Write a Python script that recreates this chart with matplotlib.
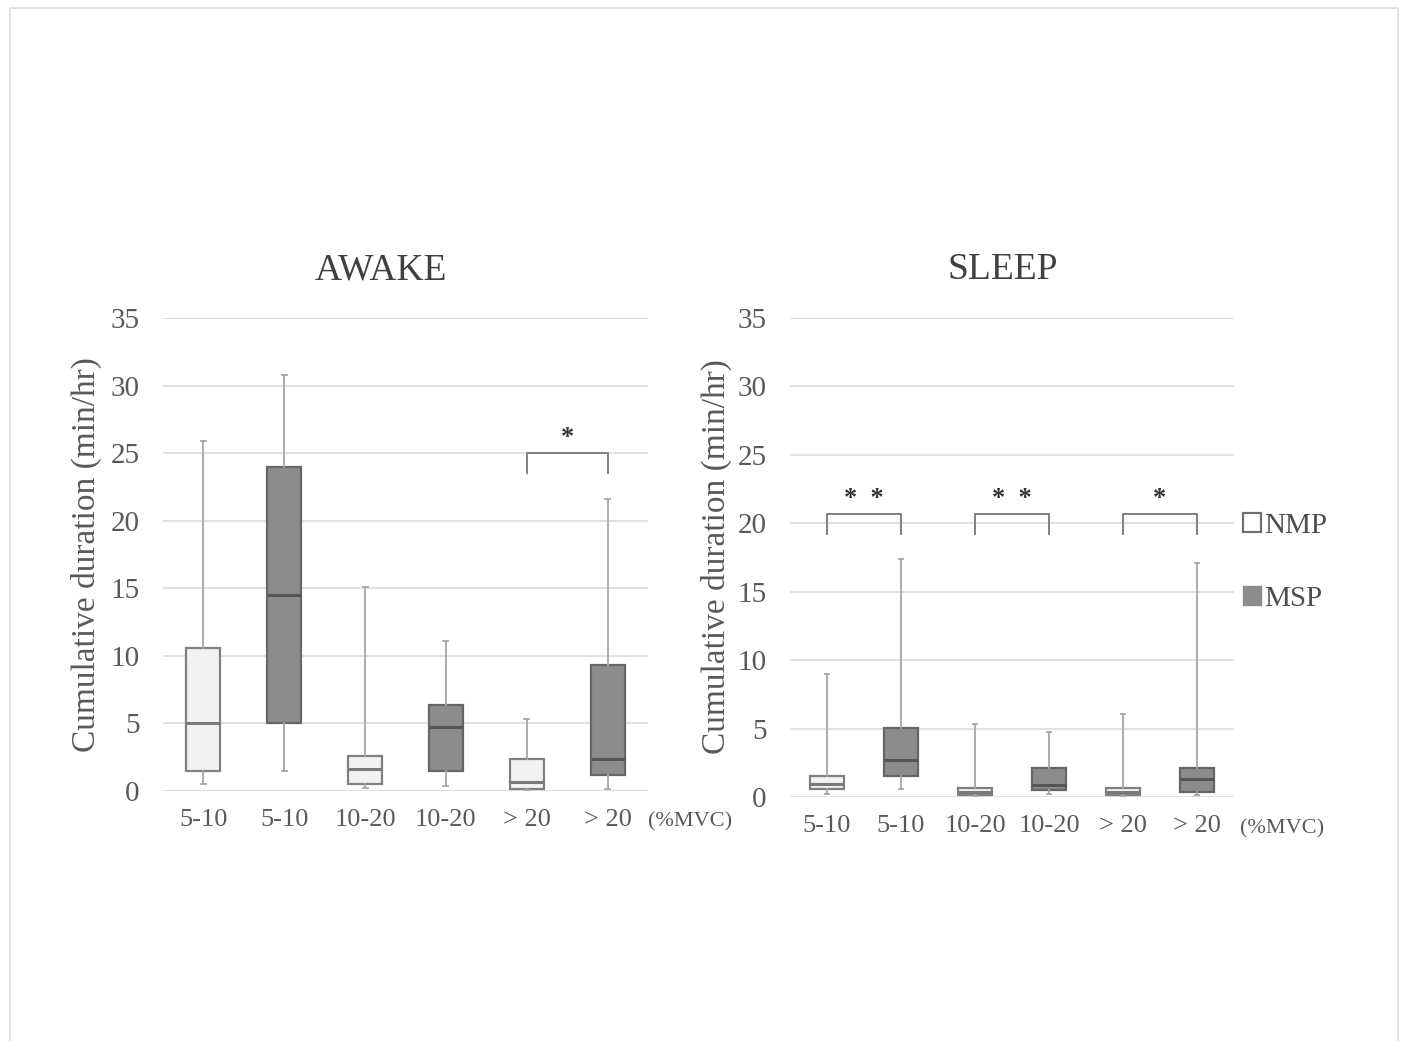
import matplotlib
matplotlib.use("Agg")
import matplotlib.pyplot as plt
from matplotlib.patches import Patch
from matplotlib.lines import Line2D

plt.rcParams['font.family'] = ['Liberation Serif', 'DejaVu Serif']

# categories (%MVC bands), NMP / MSP alternate
categories = ['5-10', '5-10', '10-20', '10-20', '> 20', '> 20']
groups = ['NMP', 'MSP', 'NMP', 'MSP', 'NMP', 'MSP']

# AWAKE box statistics (min/hr)
awake_whislo = [0.5, 1.45, 0.2, 0.4, 0.05, 0.15]
awake_q1 = [1.45, 5.05, 0.5, 1.45, 0.15, 1.2]
awake_med = [5.05, 14.5, 1.6, 4.7, 0.65, 2.35]
awake_q3 = [10.6, 24.0, 2.6, 6.4, 2.4, 9.35]
awake_whishi = [25.9, 30.8, 15.1, 11.1, 5.3, 21.6]

# SLEEP box statistics (min/hr)
sleep_whislo = [0.2, 0.6, 0.05, 0.2, 0.05, 0.15]
sleep_q1 = [0.6, 1.5, 0.15, 0.5, 0.15, 0.4]
sleep_med = [0.95, 2.7, 0.4, 0.9, 0.35, 1.3]
sleep_q3 = [1.5, 5.05, 0.65, 2.15, 0.65, 2.1]
sleep_whishi = [9.0, 17.4, 5.3, 4.75, 6.05, 17.1]

# significance marks: (left index, right index, bracket top, label)
awake_sig = [(4, 5, 25.0, '*')]
sleep_sig = [(0, 1, 20.7, '*  *'), (2, 3, 20.7, '*  *'), (4, 5, 20.7, '*')]

fill = {'NMP': '#f2f2f2', 'MSP': '#8c8c8c'}
edge = {'NMP': '#808080', 'MSP': '#666666'}
medc = {'NMP': '#7a7a7a', 'MSP': '#555555'}
tick_col = '#595959'


def draw_panel(ax, lo, q1, med, q3, hi, sig, width):
    for i in range(len(categories)):
        g = groups[i]
        st = [{'whislo': lo[i], 'q1': q1[i], 'med': med[i], 'q3': q3[i],
               'whishi': hi[i], 'fliers': []}]
        ax.bxp(st, positions=[i], widths=width, patch_artist=True,
               showfliers=False, capwidths=0.06,
               boxprops=dict(facecolor=fill[g], edgecolor=edge[g], linewidth=1.6),
               medianprops=dict(color=medc[g], linewidth=2.2),
               whiskerprops=dict(color='#a6a6a6', linewidth=1.3),
               capprops=dict(color='#a6a6a6', linewidth=1.3),
               manage_ticks=False, zorder=3)
    for a, b, top, lab in sig:
        ax.plot([a, a, b, b], [top - 1.5, top, top, top - 1.5],
                color='#808080', lw=1.4, clip_on=False, zorder=4)
        ax.text((a + b) / 2, top + 0.3, lab, ha='center', va='bottom',
                fontsize=19, color='#333333', fontweight='bold')
    ax.set_xlim(-0.5, len(categories) - 0.5)
    ax.set_ylim(0, 35)
    ax.set_yticks(range(0, 36, 5))
    ax.set_xticks(range(len(categories)))
    ax.set_xticklabels(categories)
    ax.grid(axis='y', color='#dcdcdc', linewidth=1.2)
    ax.set_axisbelow(True)
    for s in ax.spines.values():
        s.set_visible(False)
    ax.tick_params(axis='y', length=0, pad=17, labelsize=21, labelcolor=tick_col)
    ax.tick_params(axis='x', length=0, pad=13, labelsize=19, labelcolor=tick_col)
    for art in ax.patches + ax.lines:
        art.set_clip_on(False)


fig = plt.figure(figsize=(14.04, 10.41), dpi=100)
W, H = 1404, 1041

ax1 = fig.add_axes([163 / W, (H - 791) / H, 485 / W, 473 / H])
ax2 = fig.add_axes([790 / W, (H - 797) / H, 444 / W, 479 / H])

draw_panel(ax1, awake_whislo, awake_q1, awake_med, awake_q3, awake_whishi, awake_sig, 0.42)
draw_panel(ax2, sleep_whislo, sleep_q1, sleep_med, sleep_q3, sleep_whishi, sleep_sig, 0.47)

# titles and axis labels
fig.text(381 / W, 1 - 270 / H, 'AWAKE', ha='center', va='center', fontsize=27, color='#404040')
fig.text(1003 / W, 1 - 270 / H, 'SLEEP', ha='center', va='center', fontsize=27, color='#404040')
fig.text(86 / W, 1 - 555 / H, 'Cumulative duration (min/hr)', rotation=90,
         ha='center', va='center', fontsize=24, color=tick_col)
fig.text(716 / W, 1 - 557 / H, 'Cumulative duration (min/hr)', rotation=90,
         ha='center', va='center', fontsize=24, color=tick_col)
fig.text(690 / W, 1 - 822 / H, '(%MVC)', ha='center', va='center', fontsize=16, color=tick_col)
fig.text(1282 / W, 1 - 829 / H, '(%MVC)', ha='center', va='center', fontsize=16, color=tick_col)

# legend
handles = [Patch(facecolor='white', edgecolor='#707070', linewidth=1.6),
           Patch(facecolor=fill['MSP'], edgecolor=fill['MSP'])]
ax2.legend(handles, ['NMP', 'MSP'], loc='center left', bbox_to_anchor=(0.962, 0.49),
           frameon=False, fontsize=21, labelspacing=1.6, handlelength=0.6,
           handleheight=0.6, handletextpad=0.1, labelcolor='#4d4d4d')

# thin outer frame of the picture
fig.add_artist(Line2D([10 / W, 10 / W, 1398 / W, 1398 / W], [0, 1 - 8 / H, 1 - 8 / H, 0],
                      color='#e2e2e2', lw=1.5))

fig.savefig('out.png', dpi=100, facecolor='white')
